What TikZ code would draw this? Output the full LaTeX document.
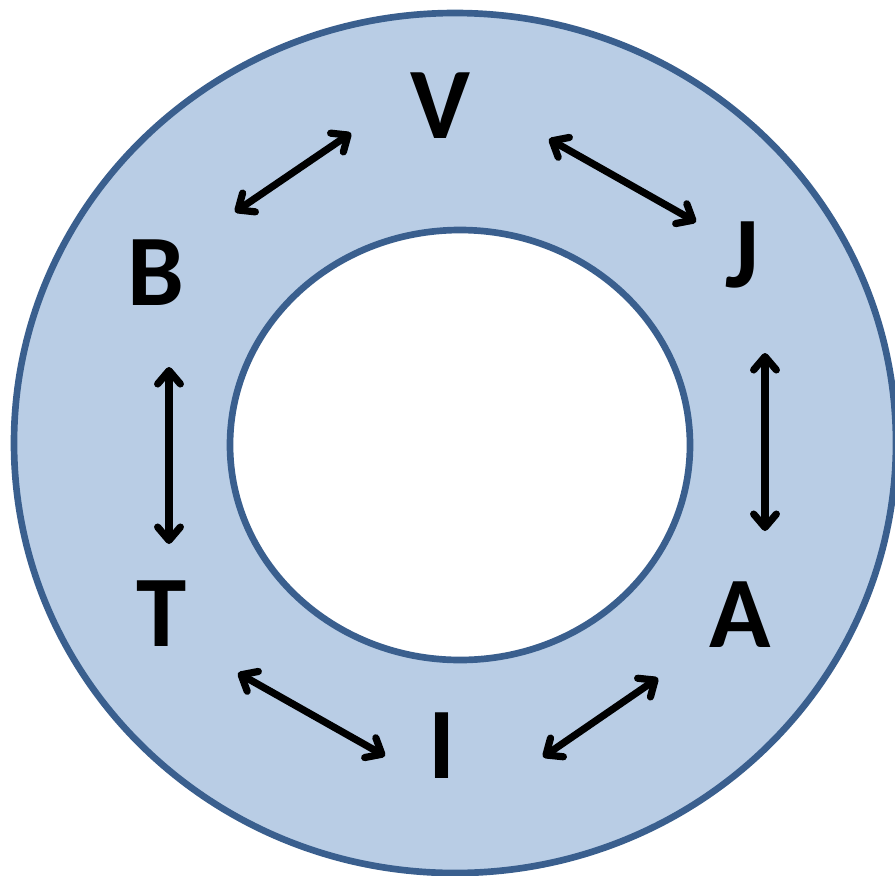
\documentclass[tikz,border=0pt]{standalone}
\usepackage{fontspec}
\setmainfont{Carlito}
\usetikzlibrary{arrows.meta}
\definecolor{ringfill}{HTML}{B9CDE5}
\definecolor{ringline}{HTML}{3A5F8E}
\tikzset{
    letter/.style={font=\fontsize{76}{76}\selectfont\bfseries, inner sep=0pt},
    relarrow/.style={line width=5.4pt, line cap=round,
        {Straight Barb[length=10pt,width=17pt,line cap=round,line join=round]}-{Straight Barb[length=10pt,width=17pt,line cap=round,line join=round]}}
}
\begin{document}
\begin{tikzpicture}[x=0.75pt, y=-0.75pt]
    \useasboundingbox (0,0) rectangle (895,875);
    % ring
    \fill[ringfill, draw=ringline, line width=5pt] (455,443) ellipse [x radius=441, y radius=430];
    \fill[white, draw=ringline, line width=5pt] (460,445) ellipse [x radius=230, y radius=215];
    % letters
    \node[letter] (V) at (440,106) {V};
    \node[letter] (J) at (742,255) {J};
    \node[letter] (B) at (156,273) {B};
    \node[letter] (T) at (162,614) {T};
    \node[letter] (A) at (740,615) {A};
    \node[letter] (I) at (442,746) {I};
    % arrow ends
    \coordinate (vb1) at (351,133);
    \coordinate (vb2) at (235,212);
    \coordinate (vj1) at (549,139);
    \coordinate (vj2) at (696,222);
    \coordinate (bt1) at (169,367);
    \coordinate (bt2) at (169,544);
    \coordinate (ja1) at (765,353);
    \coordinate (ja2) at (765,531);
    \coordinate (ti1) at (238,673);
    \coordinate (ti2) at (385,756);
    \coordinate (ia1) at (543,757);
    \coordinate (ia2) at (658,678);
    \foreach \p in {vb,vj,bt,ja,ti,ia}
        \draw[relarrow] (\p1) -- (\p2);
\end{tikzpicture}
\end{document}
